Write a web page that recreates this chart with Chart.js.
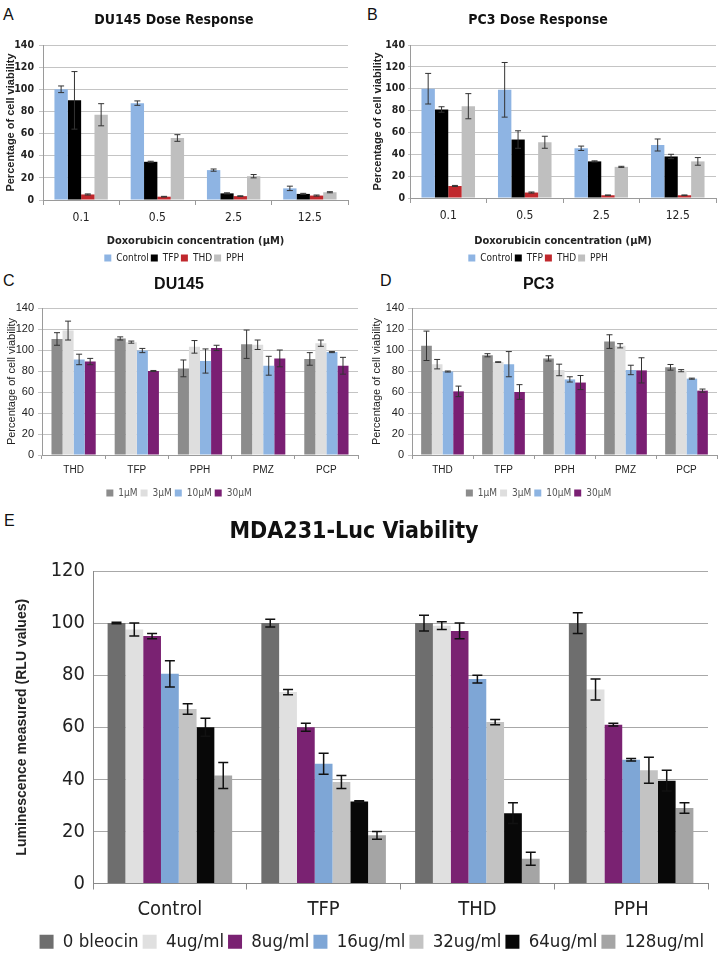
<!DOCTYPE html>
<html><head><meta charset="utf-8">
<script src="https://cdn.jsdelivr.net/npm/chart.js@4.4.1/dist/chart.umd.min.js"></script>
<style>
html,body{margin:0;padding:0;background:#fff}
body{width:720px;height:956px;position:relative;overflow:hidden;font-family:'Liberation Sans',Arial,sans-serif}
.panel{position:absolute}
.letter{position:absolute;font-size:16px;line-height:18px;color:#111}
</style></head><body>
<div class="letter" style="left:3px;top:6px">A</div>
<div class="letter" style="left:367px;top:6px">B</div>
<div class="letter" style="left:3px;top:272px">C</div>
<div class="letter" style="left:380px;top:272px">D</div>
<div class="letter" style="left:4px;top:512px">E</div>
<div class="panel" style="left:0;top:0;width:360px;height:273px"><canvas id="cA"></canvas></div>
<div class="panel" style="left:360px;top:0;width:360px;height:273px"><canvas id="cB"></canvas></div>
<div class="panel" style="left:0;top:265px;width:360px;height:243px"><canvas id="cC"></canvas></div>
<div class="panel" style="left:360px;top:265px;width:360px;height:243px"><canvas id="cD"></canvas></div>
<div class="panel" style="left:0;top:505px;width:720px;height:456px"><canvas id="cE"></canvas></div>
<script>
// ---------- data ----------
const doseLabels = ['0.1', '0.5', '2.5', '12.5'];
const doseSeries = ['Control', 'TFP', 'THD', 'PPH'];
// Panel A: DU145 dose response
const du145Control = [100, 87.5, 27, 10.5];
const du145ControlErr = [3, 2, 1, 2];
const du145TFP = [90, 34.5, 6, 5.5];
const du145TFPErr = [26, 0.5, 0.5, 0.5];
const du145THD = [5, 3, 3.5, 4];
const du145THDErr = [0.5, 0.3, 0.3, 0.5];
const du145PPH = [77, 56, 21.5, 7];
const du145PPHErr = [10, 3, 1.5, 0.5];
// Panel B: PC3 dose response
const pc3Control = [100, 99, 45.5, 48.5];
const pc3ControlErr = [14, 25, 2, 5.5];
const pc3TFP = [81, 53.5, 33.5, 38];
const pc3TFPErr = [2.5, 8, 0.5, 2];
const pc3THD = [11, 5, 2.5, 2.5];
const pc3THDErr = [0.5, 0.5, 0.3, 0.3];
const pc3PPH = [84, 51, 28.5, 33.5];
const pc3PPHErr = [11.5, 5.5, 0.5, 3.5];
// Panels C/D: drug concentrations
const drugLabels = ['THD', 'TFP', 'PPH', 'PMZ', 'PCP'];
const concSeries = ['1µM', '3µM', '10µM', '30µM'];
const du145_1uM = [110.5, 111, 82.5, 105.5, 91.5];
const du145_1uMErr = [6, 1.5, 8, 13.5, 6];
const du145_3uM = [118.5, 107.5, 103, 105, 106.5];
const du145_3uMErr = [9, 1, 6, 4.5, 3];
const du145_10uM = [91, 99.5, 89.5, 85, 98];
const du145_10uMErr = [5, 2, 11.5, 9, 0.5];
const du145_30uM = [89, 80, 102, 92, 85];
const du145_30uMErr = [3, 0.5, 2.5, 8, 8];
const pc3_1uM = [104, 95, 92, 108, 83.5];
const pc3_1uMErr = [14, 1.5, 2.5, 6.5, 2.7];
const pc3_3uM = [86.5, 88.5, 81, 104, 80.3];
const pc3_3uMErr = [4.5, 0.3, 5.5, 2, 1];
const pc3_10uM = [79.5, 86.5, 72, 81, 72.7];
const pc3_10uMErr = [0.5, 12, 2.5, 4.5, 0.5];
const pc3_30uM = [60.6, 60, 69, 80.6, 61.3];
const pc3_30uMErr = [5, 7, 6.7, 12, 1.5];
// Panel E: MDA231-Luc viability
const lucLabels = ['Control', 'TFP', 'THD', 'PPH'];
const lucSeries = ['0 bleocin', '4ug/ml', '8ug/ml', '16ug/ml', '32ug/ml', '64ug/ml', '128ug/ml'];
const luc0 = [100, 100, 100, 100];
const luc0Err = [0.3, 1.5, 3, 4];
const luc4 = [97.5, 73.5, 99, 74.5];
const luc4Err = [2.5, 1, 1.5, 4];
const luc8 = [95, 60, 97, 61];
const luc8Err = [1, 1.5, 3, 0.5];
const luc16 = [80.5, 46, 78.5, 47.5];
const luc16Err = [5, 4, 1.5, 0.5];
const luc32 = [67, 39, 62, 43.5];
const luc32Err = [2, 2.5, 1, 5];
const luc64 = [60, 31.5, 27, 39.5];
const luc64Err = [3.5, 0.3, 4, 4];
const luc128 = [41.5, 18.5, 9.5, 29];
const luc128Err = [5, 1.5, 2.5, 2];

// ---------- styling ----------
const NARROW = "'DejaVu Sans Condensed','Liberation Sans Narrow','Liberation Sans',sans-serif";
const SANS = "'Liberation Sans',Arial,sans-serif";
Chart.defaults.animation = false;
Chart.defaults.color = '#222';

const errorBars = {
  id: 'errorBars',
  afterDatasetsDraw(chart, args, opts) {
    const ctx = chart.ctx, ys = chart.scales.y;
    chart.data.datasets.forEach((ds, i) => {
      const meta = chart.getDatasetMeta(i);
      if (!ds.errors || meta.hidden) return;
      meta.data.forEach((bar, j) => {
        const v = ds.data[j], e = ds.errors[j];
        if (e == null) return;
        const x = bar.x;
        const top = ys.getPixelForValue(v + e), bot = ys.getPixelForValue(v - e);
        ctx.save();
        ctx.strokeStyle = opts.color; ctx.lineWidth = opts.width;
        ctx.beginPath();
        ctx.moveTo(x, top); ctx.lineTo(x, bot);
        ctx.moveTo(x - opts.cap, top); ctx.lineTo(x + opts.cap, top);
        ctx.moveTo(x - opts.cap, bot); ctx.lineTo(x + opts.cap, bot);
        ctx.stroke();
        ctx.restore();
      });
    });
  }
};

function ds(label, data, errors, color) {
  return { label, data, errors, backgroundColor: color, borderWidth: 0, barPercentage: 1.0 };
}

function makeChart(id, o) {
  new Chart(document.getElementById(id), {
    type: 'bar',
    data: { labels: o.labels, datasets: o.datasets },
    plugins: [errorBars],
    options: {
      responsive: true, maintainAspectRatio: false,
      layout: { padding: o.padding },
      datasets: { bar: { categoryPercentage: o.catPct, barPercentage: 1.0 } },
      plugins: {
        errorBars: o.err,
        tooltip: { enabled: false },
        title: { display: true, text: o.title, font: o.titleFont, color: '#111',
                 padding: o.titlePad },
        legend: { position: 'bottom', align: o.legendAlign || 'center',
          labels: { font: o.legendFont, color: o.legendColor || '#222', boxWidth: o.box,
                    boxHeight: o.box, padding: o.legendPad } }
      },
      scales: {
        x: {
          afterFit: s => { s.height = o.xHeight; },
          grid: { drawOnChartArea: false, offset: true, color: o.axisColor, tickLength: o.xTick },
          border: { color: o.axisColor, width: 1 },
          ticks: { font: o.xFont, color: '#222', padding: o.xPad, maxRotation: 0 },
          title: o.xTitle ? { display: true, text: o.xTitle, font: o.xTitleFont, color: '#222',
                              padding: { top: 2, bottom: 3 } } : { display: false }
        },
        y: {
          min: 0, max: o.ymax,
          afterFit: s => { s.width = o.yWidth; },
          grid: { color: o.gridColor, lineWidth: 1, drawTicks: o.yTick > 0, tickLength: o.yTick },
          border: { color: o.axisColor, width: 1 },
          ticks: { stepSize: 20, font: o.yFont, color: '#222', padding: o.yPad },
          title: { display: true, text: o.yTitle, font: o.yTitleFont, color: '#222',
                   padding: o.yTitlePad }
        }
      }
    }
  });
}

// ---------- Panel A & B ----------
const doseColors = ['#8eb4e3', '#000000', '#c0282d', '#bfbfbf'];
const commonAB = {
  labels: doseLabels, catPct: 0.7, ymax: 140,
  titleFont: { family: NARROW, size: 14, weight: 'bold' }, titlePad: { top: 11.6, bottom: 16.6 },
  legendFont: { family: NARROW, size: 10 }, box: 7, legendPad: 2,
  xHeight: 51, xTick: 5, xPad: 6, xFont: { family: NARROW, size: 12 },
  xTitle: 'Doxorubicin concentration (µM)', xTitleFont: { family: NARROW, size: 11, weight: 'bold' },
  yTick: 4, yPad: 5, yFont: { family: NARROW, size: 10.5, weight: 'bold' },
  yTitle: 'Percentage of cell viability', yTitleFont: { family: SANS, size: 11, weight: 'bold' },
  yTitlePad: { top: 4, bottom: 0 },
  gridColor: '#c4c4c4', axisColor: '#9a9a9a',
  err: { color: '#333', width: 1, cap: 3 }
};
makeChart('cA', Object.assign({}, commonAB, {
  title: 'DU145 Dose Response', padding: { left: 0, right: 12, top: 0, bottom: 0 }, yWidth: 43,
  datasets: [
    ds(doseSeries[0], du145Control, du145ControlErr, doseColors[0]),
    ds(doseSeries[1], du145TFP, du145TFPErr, doseColors[1]),
    ds(doseSeries[2], du145THD, du145THDErr, doseColors[2]),
    ds(doseSeries[3], du145PPH, du145PPHErr, doseColors[3])
  ]
}));
makeChart('cB', Object.assign({}, commonAB, {
  title: 'PC3 Dose Response', padding: { left: 0, right: 4, top: 0, bottom: 0 }, yWidth: 50,
  xHeight: 53, yTick: 2, yPad: 3, yTitlePad: { top: 11, bottom: 0 },
  datasets: [
    ds(doseSeries[0], pc3Control, pc3ControlErr, doseColors[0]),
    ds(doseSeries[1], pc3TFP, pc3TFPErr, doseColors[1]),
    ds(doseSeries[2], pc3THD, pc3THDErr, doseColors[2]),
    ds(doseSeries[3], pc3PPH, pc3PPHErr, doseColors[3])
  ]
}));

// ---------- Panel C & D ----------
const concColors = ['#8c8c8c', '#dedede', '#8db4e2', '#7a1f73'];
const commonCD = {
  labels: drugLabels, catPct: 0.7, ymax: 140,
  titleFont: { family: SANS, size: 16 }, titlePad: { top: 10.4, bottom: 13.4 },
  legendFont: { family: NARROW, size: 10 }, legendColor: '#555', box: 7, legendPad: 3,
  xHeight: 30, xTick: 4, xPad: 5, xFont: { family: SANS, size: 10 },
  xTitle: null,
  yTick: 4, yPad: 4, yFont: { family: SANS, size: 11 },
  yTitle: 'Percentage of cell viability', yTitleFont: { family: SANS, size: 11 },
  yTitlePad: { top: 5, bottom: 0 },
  gridColor: '#c4c4c4', axisColor: '#9a9a9a',
  err: { color: '#333', width: 1, cap: 3 }
};
makeChart('cC', Object.assign({}, commonCD, {
  title: 'DU145', padding: { left: 0, right: 2, top: 0, bottom: 0 }, yWidth: 42,
  datasets: [
    ds(concSeries[0], du145_1uM, du145_1uMErr, concColors[0]),
    ds(concSeries[1], du145_3uM, du145_3uMErr, concColors[1]),
    ds(concSeries[2], du145_10uM, du145_10uMErr, concColors[2]),
    ds(concSeries[3], du145_30uM, du145_30uMErr, concColors[3])
  ]
}));
makeChart('cD', Object.assign({}, commonCD, {
  title: 'PC3', padding: { left: 0, right: 3, top: 0, bottom: 0 }, yWidth: 52,
  yTitlePad: { top: 10, bottom: 0 },
  datasets: [
    ds(concSeries[0], pc3_1uM, pc3_1uMErr, concColors[0]),
    ds(concSeries[1], pc3_3uM, pc3_3uMErr, concColors[1]),
    ds(concSeries[2], pc3_10uM, pc3_10uMErr, concColors[2]),
    ds(concSeries[3], pc3_30uM, pc3_30uMErr, concColors[3])
  ]
}));

// ---------- Panel E ----------
const lucColors = ['#6e6e6e', '#e0e0e0', '#7a2272', '#7ea6d6', '#c3c3c3', '#080808', '#a5a5a5'];
makeChart('cE', {
  labels: lucLabels, catPct: 0.81, ymax: 120,
  title: 'MDA231-Luc Viability',
  titleFont: { family: NARROW, size: 23, weight: 'bold' }, titlePad: { top: 13.2, bottom: 25.2 },
  legendFont: { family: NARROW, size: 18.5 }, box: 14, legendPad: 4, legendAlign: 'end',
  padding: { left: 0, right: 12, top: 0, bottom: 0 },
  xHeight: 45, xTick: 6, xPad: 8, xFont: { family: NARROW, size: 20 },
  xTitle: null,
  yWidth: 93, yTick: 0, yPad: 8, yFont: { family: NARROW, size: 20 },
  yTitle: 'Luminescence measured (RLU values)', yTitleFont: { family: SANS, size: 14, weight: 'bold' },
  yTitlePad: { top: 14, bottom: 0 },
  gridColor: '#a8a8a8', axisColor: '#8a8a8a',
  err: { color: '#111', width: 1.5, cap: 5 },
  datasets: [
    ds(lucSeries[0], luc0, luc0Err, lucColors[0]),
    ds(lucSeries[1], luc4, luc4Err, lucColors[1]),
    ds(lucSeries[2], luc8, luc8Err, lucColors[2]),
    ds(lucSeries[3], luc16, luc16Err, lucColors[3]),
    ds(lucSeries[4], luc32, luc32Err, lucColors[4]),
    ds(lucSeries[5], luc64, luc64Err, lucColors[5]),
    ds(lucSeries[6], luc128, luc128Err, lucColors[6])
  ]
});
</script>
</body></html>
